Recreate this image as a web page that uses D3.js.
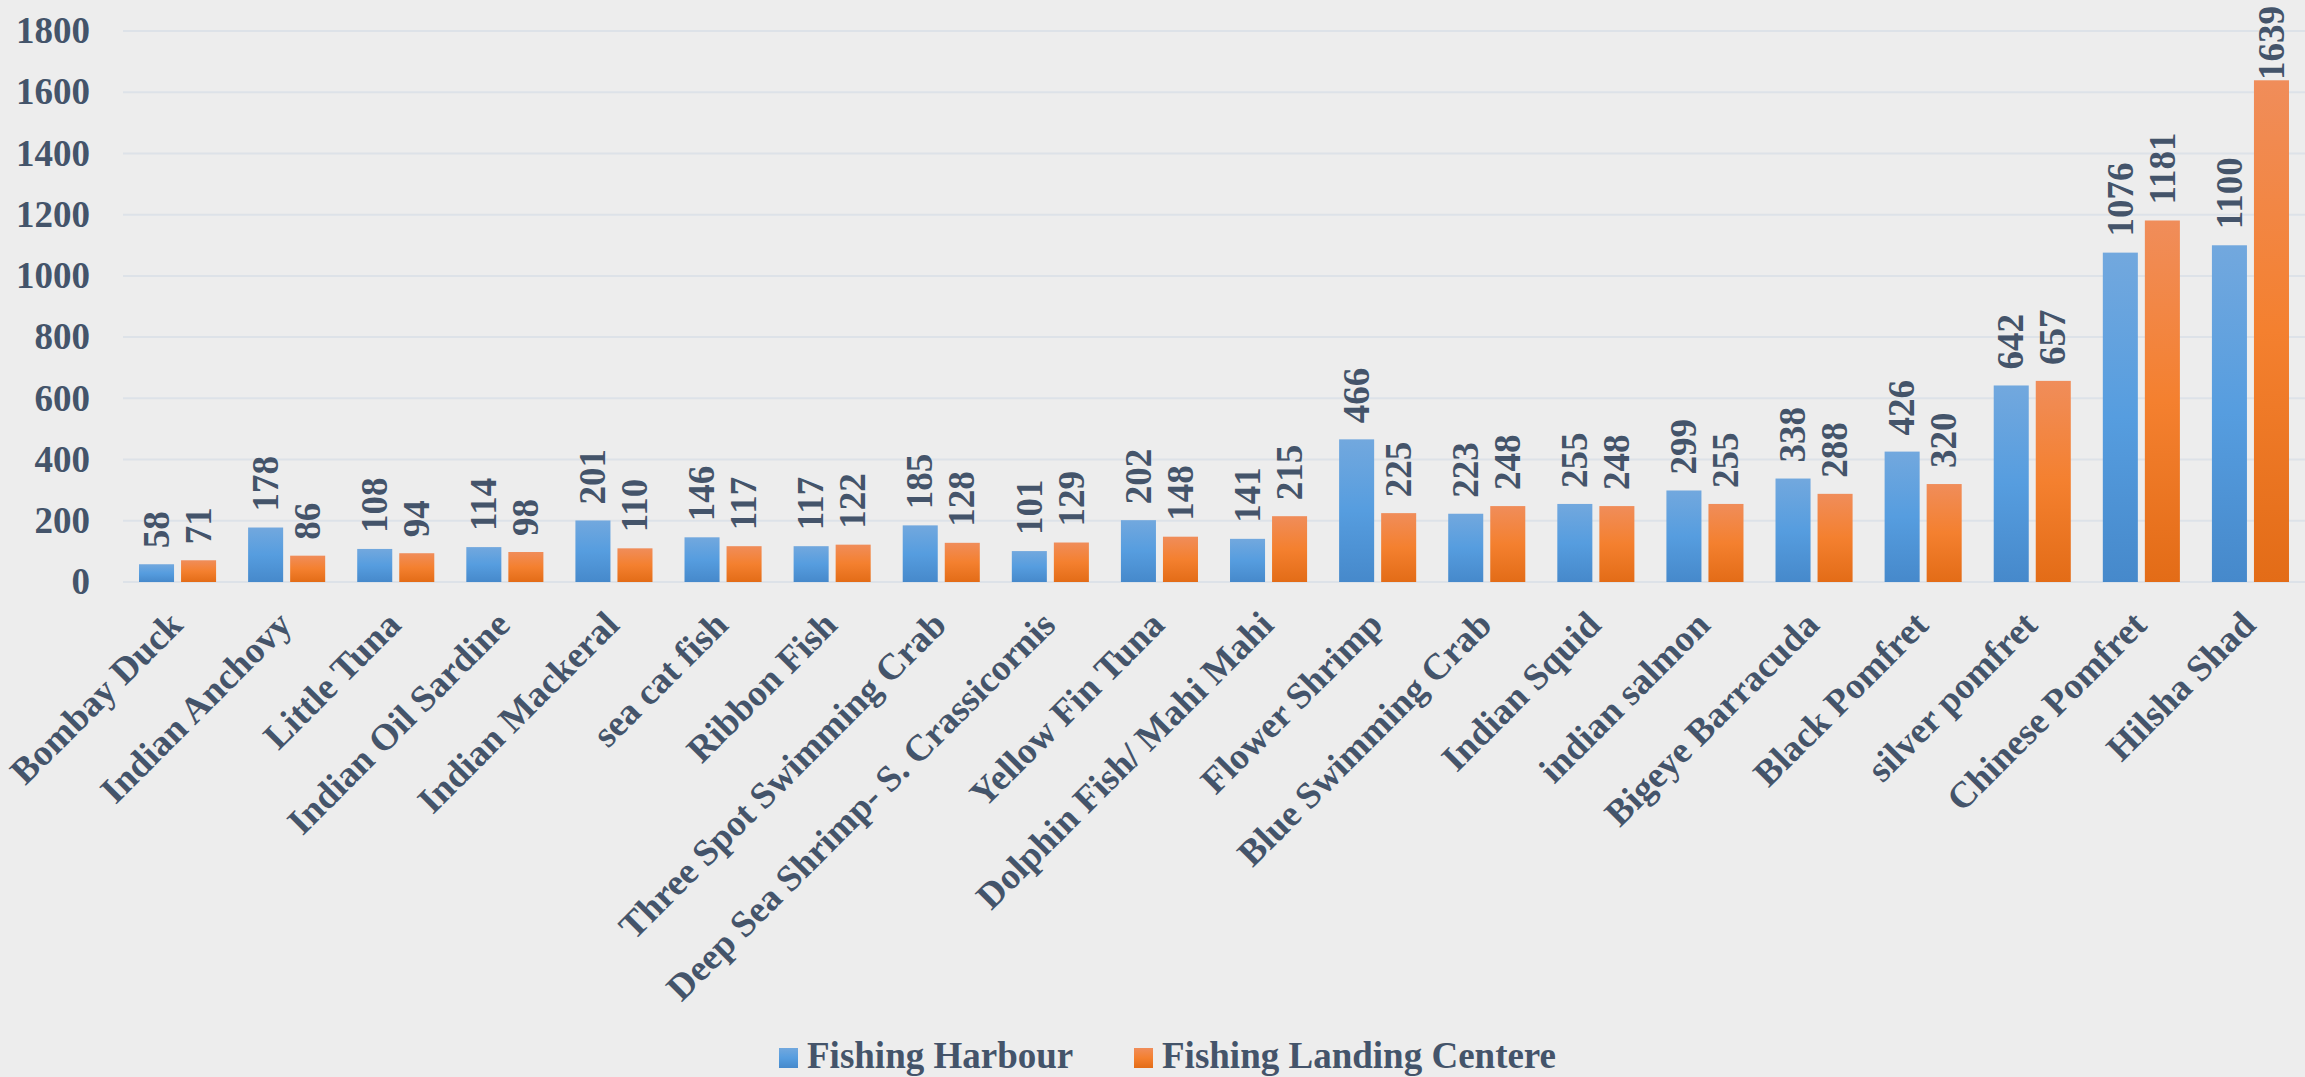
<!DOCTYPE html>
<html>
<head>
<meta charset="utf-8">
<script src="https://cdn.jsdelivr.net/npm/d3@7"></script>
<style>
  body { margin: 0; background: #ededed; }
  text { font-family: "Liberation Serif", "Times New Roman", serif; font-weight: bold; fill: #44546a; }
</style>
</head>
<body>
<div id="viz"></div>
<script>
// chart data
var fish = ["Bombay Duck", "Indian Anchovy", "Little Tuna", "Indian Oil Sardine", "Indian Mackeral",
  "sea cat fish", "Ribbon Fish", "Three Spot Swimming Crab", "Deep Sea Shrimp- S. Crassicornis",
  "Yellow Fin Tuna", "Dolphin Fish/ Mahi Mahi", "Flower Shrimp", "Blue Swimming Crab", "Indian Squid",
  "indian salmon", "Bigeye Barracuda", "Black Pomfret", "silver pomfret", "Chinese Pomfret", "Hilsha Shad"]
var harbour = [58, 178, 108, 114, 201, 146, 117, 185, 101, 202, 141, 466, 223, 255, 299, 338, 426, 642, 1076, 1100]
var landing = [71, 86, 94, 98, 110, 117, 122, 128, 129, 148, 215, 225, 248, 248, 255, 288, 320, 657, 1181, 1639]
var seriesNames = ["Fishing Harbour", "Fishing Landing Centere"]
var yTicks = [0, 200, 400, 600, 800, 1000, 1200, 1400, 1600, 1800]

var w = 2305
var h = 1077
// plot edges (not "top", that one is taken by window.top)
var plotL = 123, plotR = 2305, plotT = 31, plotB = 582

var svg = d3.select("#viz").append("svg")
  .attr("width", w)
  .attr("height", h)

svg.append("rect").attr("width", w).attr("height", h).attr("fill", "#ededed")

// gradients, one per series
var defs = svg.append("defs")
var grads = [
  ["gBlue", ["#72a8de", "#569ddf", "#4689cb"]],
  ["gOrange", ["#f08d5a", "#f4802f", "#e36c17"]]
]
grads.forEach(g => {
  var lg = defs.append("linearGradient").attr("id", g[0])
    .attr("x1", 0).attr("y1", 0).attr("x2", 0).attr("y2", 1)
  lg.append("stop").attr("offset", "0%").attr("stop-color", g[1][0])
  lg.append("stop").attr("offset", "50%").attr("stop-color", g[1][1])
  lg.append("stop").attr("offset", "100%").attr("stop-color", g[1][2])
})

var x = d3.scaleBand().domain(fish).range([plotL, plotR]).padding(0)
var y = d3.scaleLinear().domain([0, 1800]).range([plotB, plotT])

// gridlines
svg.selectAll(".grid").data(yTicks).enter()
  .append("line")
  .attr("x1", plotL).attr("x2", plotR)
  .attr("y1", d => y(d)).attr("y2", d => y(d))
  .attr("stroke", "#dde2e8").attr("stroke-width", 2)

// y labels
svg.selectAll(".ylab").data(yTicks).enter()
  .append("text")
  .attr("x", 90)
  .attr("y", d => y(d))
  .attr("dy", "0.33em")
  .attr("text-anchor", "end")
  .attr("font-size", 37)
  .text(d => d)

// bars
var bw = x.bandwidth()
var barW = bw * 35 / 109
var inner = bw * 16 / 109
var gap = bw * 7 / 109

var rows = fish.map((f, i) => ({ f: f, v: [harbour[i], landing[i]] }))

var groups = svg.selectAll(".grp").data(rows).enter()
  .append("g")
  .attr("transform", d => "translate(" + x(d.f) + ",0)")

;[0, 1].forEach(s => {
  var bx = inner + s * (barW + gap)
  groups.append("rect")
    .attr("x", bx)
    .attr("y", d => y(d.v[s]))
    .attr("width", barW)
    .attr("height", d => y(0) - y(d.v[s]))
    .attr("fill", "url(#" + grads[s][0] + ")")

  // value labels, pushed down when they would leave the top of the chart
  groups.append("text")
    .attr("dy", "0.33em")
    .attr("font-size", 37)
    .text(d => d.v[s])
    .attr("transform", function(d) {
      var len = this.getComputedTextLength()
      var endY = Math.max(y(d.v[s]) - 16, 6 + len)
      return "translate(" + (bx + barW / 2) + "," + endY + ") rotate(-90)"
    })
})

// category labels
svg.selectAll(".xlab").data(fish).enter()
  .append("text")
  .attr("transform", d => "translate(" + (x(d) + bw / 2 + 7) + ",627) rotate(-45)")
  .attr("text-anchor", "end")
  .attr("font-size", 37)
  .text(d => d)

// legend
var legend = [
  { x: 779, tx: 807 },
  { x: 1134, tx: 1162 }
]
legend.forEach((l, i) => {
  svg.append("rect")
    .attr("x", l.x).attr("y", 1048)
    .attr("width", 19).attr("height", 20)
    .attr("fill", "url(#" + grads[i][0] + ")")
  svg.append("text")
    .attr("x", l.tx).attr("y", 1068)
    .attr("font-size", 37)
    .text(seriesNames[i])
})
</script>
</body>
</html>
